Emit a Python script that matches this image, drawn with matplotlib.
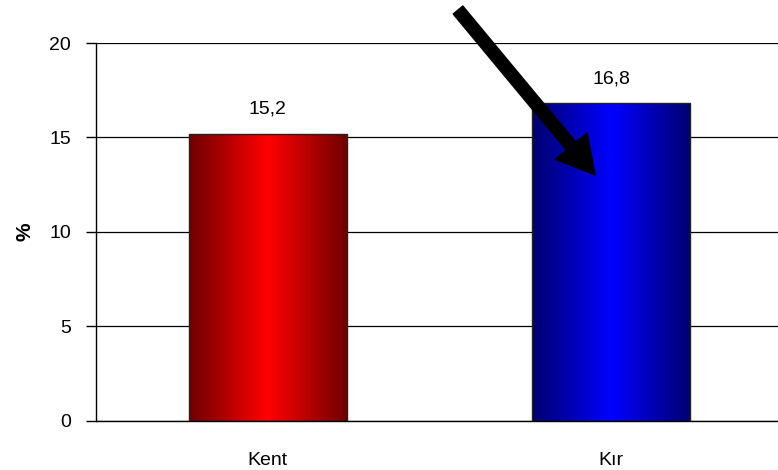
import numpy as np
import matplotlib.pyplot as plt
from matplotlib.colors import LinearSegmentedColormap

kategoriler = ['Kent', 'Kır']
degerler = [15.2, 16.8]
etiketler = ['15,2', '16,8']
renkler = [('#6e0000', '#ff0000'), ('#00006e', '#0000ff')]

plt.rcParams['font.family'] = ['Liberation Sans', 'DejaVu Sans']

fig = plt.figure(figsize=(7.78, 4.70), dpi=100)
ax = fig.add_axes([0.1234, 0.1043, 0.883, 0.8042])

genislik = 0.46
x = np.arange(len(kategoriler))
cubuklar = ax.bar(x, degerler, width=genislik, color='none', edgecolor='#222222',
                  linewidth=1, zorder=3)

# Gradyan dolgu
grad = np.concatenate([np.linspace(0, 1, 128), np.linspace(1, 0, 128)])[None, :]
for cubuk, (koyu, parlak) in zip(cubuklar, renkler):
    cmap = LinearSegmentedColormap.from_list('g', [koyu, parlak])
    x0, y0 = cubuk.get_x(), cubuk.get_y()
    w, h = cubuk.get_width(), cubuk.get_height()
    im = ax.imshow(grad, cmap=cmap, aspect='auto', extent=[x0, x0 + w, y0, y0 + h],
                   zorder=2, interpolation='bilinear')
    im.set_clip_path(cubuk)

for xi, v, et in zip(x, degerler, etiketler):
    ax.text(xi, v + 0.85, et, ha='center', va='bottom', fontsize=14)

ax.set_xlim(-0.5, 1.5)
ax.set_ylim(0, 20)
ax.set_yticks([0, 5, 10, 15, 20])
ax.set_xticks(x)
ax.set_xticklabels(kategoriler, fontsize=14)
ax.tick_params(axis='x', length=0, pad=22)
ax.tick_params(axis='y', length=7, width=1, labelsize=14, pad=11)
ax.yaxis.grid(True, color='black', linewidth=0.9)
ax.set_axisbelow(True)
for s in ['top', 'right']:
    ax.spines[s].set_visible(False)
ax.spines['left'].set_linewidth(1)
ax.spines['bottom'].set_linewidth(1)
ax.set_ylabel('%', fontsize=15, fontweight='bold')
ax.yaxis.set_label_coords(-0.09, 0.5)

# Ok
ax.annotate('', xy=(0.7648, 0.6277), xytext=(0.5887, 0.9787),
            xycoords='figure fraction', textcoords='figure fraction',
            arrowprops=dict(facecolor='black', edgecolor='black', width=9,
                            headwidth=30, headlength=27, shrink=0))

fig.savefig('out.png', dpi=100)
